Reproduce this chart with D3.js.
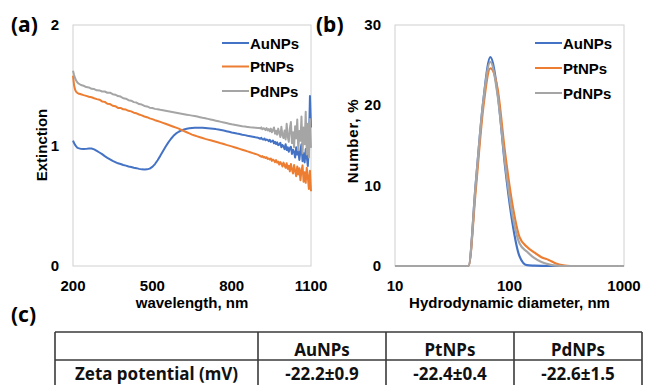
<!DOCTYPE html>
<html><head><meta charset="utf-8">
<script src="https://cdn.jsdelivr.net/npm/d3@7/dist/d3.min.js"></script>
<style>
html,body{margin:0;padding:0;background:#fff;}
svg{display:block;}
</style></head><body>
<svg id="chart" width="655" height="385"></svg>
<script>
// ---------- DATA ----------
const seriesNames = ["AuNPs", "PtNPs", "PdNPs"];
const seriesColors = ["#4472C4", "#ED7D31", "#A5A5A5"];

// (a) extinction spectra
const wavelength = [200, 204, 208, 212, 216]
  .concat(d3.range(220, 901, 10), d3.range(904, 1101, 4));
const extAu = [1.040,1.020,1.005,0.992,0.982,
  0.978,0.972,0.970,0.972,0.976,0.975,0.968,0.955,0.942,0.928,
  0.912,0.898,0.885,0.872,0.862,0.852,0.846,0.838,0.833,0.826,
  0.822,0.816,0.812,0.806,0.802,0.800,0.802,0.808,0.822,0.846,
  0.878,0.914,0.952,0.990,1.024,1.054,1.080,1.100,1.114,1.125,
  1.133,1.139,1.143,1.146,1.147,1.148,1.148,1.147,1.146,1.144,
  1.142,1.139,1.136,1.132,1.128,1.124,1.119,1.114,1.108,1.104,
  1.099,1.095,1.090,1.086,1.081,1.077,1.073,1.068,1.064,
  1.060,1.056,1.064,1.052,1.049,1.058,1.044,1.050,1.047,1.036,
  1.048,1.030,1.034,1.042,1.018,1.030,1.012,1.026,1.003,1.008,
  1.022,0.985,1.004,0.992,0.970,1.010,0.962,0.985,0.948,0.978,
  0.990,0.930,0.965,0.945,0.900,0.985,0.925,0.950,0.880,0.960,
  1.010,0.870,0.935,0.860,0.970,0.905,0.830,0.990,1.410,1.150];
const extPt = [1.580,1.500,1.462,1.445,1.437,
  1.432,1.425,1.418,1.412,1.405,1.400,1.392,1.385,1.380,1.366,
  1.362,1.346,1.344,1.330,1.326,1.312,1.312,1.300,1.298,1.288,
  1.283,1.272,1.267,1.257,1.250,1.241,1.235,1.225,1.219,1.210,
  1.203,1.196,1.188,1.180,1.172,1.164,1.156,1.148,1.140,1.130,
  1.120,1.110,1.100,1.090,1.083,1.076,1.069,1.062,1.055,1.049,
  1.043,1.037,1.031,1.025,1.018,1.012,1.005,0.999,0.993,0.986,
  0.979,0.972,0.965,0.958,0.951,0.944,0.937,0.930,0.922,
  0.917,0.913,0.906,0.912,0.901,0.905,0.896,0.903,0.889,0.893,
  0.884,0.892,0.872,0.884,0.876,0.862,0.879,0.858,0.866,0.842,
  0.862,0.848,0.826,0.858,0.835,0.815,0.852,0.806,0.832,0.785,
  0.846,0.800,0.768,0.838,0.790,0.745,0.826,0.760,0.812,0.712,
  0.790,0.835,0.700,0.778,0.690,0.815,0.740,0.640,0.790,0.620];
const extPd = [1.620,1.585,1.558,1.538,1.525,
  1.515,1.502,1.496,1.485,1.482,1.470,1.468,1.458,1.457,1.448,
  1.448,1.438,1.438,1.426,1.422,1.410,1.406,1.392,1.388,1.376,
  1.372,1.360,1.356,1.344,1.340,1.328,1.324,1.314,1.311,1.304,
  1.301,1.296,1.292,1.288,1.284,1.280,1.276,1.272,1.268,1.264,
  1.260,1.256,1.252,1.248,1.244,1.240,1.235,1.230,1.226,1.221,
  1.216,1.211,1.206,1.201,1.196,1.191,1.186,1.181,1.176,1.172,
  1.168,1.164,1.160,1.157,1.154,1.151,1.149,1.147,1.145,
  1.146,1.142,1.150,1.135,1.143,1.139,1.128,1.145,1.125,1.136,
  1.118,1.140,1.110,1.128,1.150,1.098,1.122,1.090,1.140,1.105,
  1.070,1.155,1.085,1.062,1.125,1.050,1.180,1.075,1.030,1.140,
  1.195,1.020,1.110,0.985,1.160,1.060,1.215,0.960,1.120,1.040,
  1.240,0.935,1.150,1.010,1.280,0.925,1.180,0.900,1.220,0.980];
const extTicks = [0, 1, 2];
const wlTicks = [200, 500, 800, 1100];

// (b) DLS number distributions
const diameter = [10, 37.84, 43.82, 50.75, 58.77, 68.06, 78.82, 91.28, 105.7, 122.4,
                  141.8, 164.2, 190.1, 220.2, 255.0, 295.3, 342.0, 500, 1000];
const numAu = [0, 0, 0, 10.3, 20.3, 26.0, 21.5, 12.5, 5.5, 1.2, 0.1, 0.05, 0.02, 0, 0, 0, 0, 0, 0];
const numPt = [0, 0, 0, 9.5, 19.5, 24.6, 22.0, 14.2, 7.8, 3.6, 2.4, 1.7, 1.1, 0.75, 0.3, 0.08, 0, 0, 0];
const numPd = [0, 0, 0, 10.3, 20.3, 25.4, 21.2, 12.9, 6.5, 2.8, 1.8, 1.0, 0.5, 0.2, 0.05, 0, 0, 0, 0];
const numTicks = [0, 10, 20, 30];
const diaTicks = [10, 100, 1000];

// (c) zeta potential table
const tableHeader = ["", "AuNPs", "PtNPs", "PdNPs"];
const tableRow = ["Zeta potential (mV)", "-22.2±0.9", "-22.4±0.4", "-22.6±1.5"];

// ---------- DRAW ----------
const svg = d3.select("#chart");
const FONT = "'Liberation Sans', Arial, sans-serif";
const PFONT = "'Noto Sans', 'Open Sans', sans-serif";

function panel(opts) {
  const g = svg.append("g");
  const {x, y, xTicks, yTicks, series, xs, label, labelX, xTitle, yTitle, yTitleX, yTitleY, legendX, legendY, curve} = opts;
  const [x0, x1] = x.range();
  const [y0, y1] = y.range();
  g.append("rect").attr("x", x0).attr("y", y1).attr("width", x1 - x0).attr("height", y0 - y1)
    .attr("fill", "none").attr("stroke", "#d0d0d0").attr("stroke-width", 1);
  const line = d3.line().x((d, i) => x(xs[i])).y(d => y(d)).curve(curve);
  series.forEach((s, k) => {
    g.append("path").datum(s).attr("d", line).attr("fill", "none")
      .attr("stroke", seriesColors[k]).attr("stroke-width", opts.sw).attr("stroke-linejoin", "round");
  });
  g.selectAll(".yt").data(yTicks).enter().append("text")
    .attr("x", x0 - 14).attr("y", d => y(d) + 5).attr("text-anchor", "end")
    .attr("font-family", FONT).attr("font-weight", "bold").attr("font-size", 15).attr("fill", "#000")
    .text(d => d);
  g.selectAll(".xt").data(xTicks).enter().append("text")
    .attr("x", d => x(d)).attr("y", 291).attr("text-anchor", "middle")
    .attr("font-family", FONT).attr("font-weight", "bold").attr("font-size", 15).attr("fill", "#000")
    .text(d => d);
  g.append("text").attr("x", (x0 + x1) / 2).attr("y", 308).attr("text-anchor", "middle")
    .attr("font-family", FONT).attr("font-weight", "bold").attr("font-size", 15).text(xTitle);
  g.append("text").attr("transform", `translate(${yTitleX},${yTitleY}) rotate(-90)`)
    .attr("text-anchor", "middle").attr("font-family", FONT).attr("font-weight", "bold")
    .attr("font-size", 15).attr("letter-spacing", opts.yls || 0).text(yTitle);
  g.append("text").attr("x", labelX).attr("y", 32).attr("font-family", PFONT)
    .attr("font-weight", "bold").attr("font-size", 21).text(label);
  seriesNames.forEach((n, k) => {
    const ly = legendY[k];
    g.append("line").attr("x1", legendX).attr("x2", legendX + 27).attr("y1", ly).attr("y2", ly)
      .attr("stroke", seriesColors[k]).attr("stroke-width", 2);
    g.append("text").attr("x", legendX + 28).attr("y", ly + 5.5)
      .attr("font-family", FONT).attr("font-weight", "bold").attr("font-size", 15).text(n);
  });
}

const xA = d3.scaleLinear().domain([200, 1100]).range([73, 311]);
const yA = d3.scaleLinear().domain([0, 2]).range([266, 25]);
panel({x: xA, y: yA, xTicks: wlTicks, yTicks: extTicks, series: [extAu, extPt, extPd], xs: wavelength,
  label: "(a)", labelX: 11, xTitle: "wavelength, nm", yTitle: "Extinction", yTitleX: 47, yTitleY: 145,
  legendX: 222, legendY: [43, 66.5, 91], curve: d3.curveLinear, sw: 2});

const xB = d3.scaleLog().domain([10, 1000]).range([395, 624]);
const yB = d3.scaleLinear().domain([0, 30]).range([266, 25]);
panel({x: xB, y: yB, xTicks: diaTicks, yTicks: numTicks, series: [numAu, numPt, numPd], xs: diameter,
  label: "(b)", labelX: 316, xTitle: "Hydrodynamic diameter, nm", yTitle: "Number, %", yTitleX: 358, yTitleY: 141,
  legendX: 535, legendY: [43, 68, 93], curve: d3.curveMonotoneX, sw: 2.2, yls: 0.8});

svg.append("text").attr("x", 11).attr("y", 322).attr("font-family", PFONT)
  .attr("font-weight", "bold").attr("font-size", 21).text("(c)");

const colEdges = [55, 258, 386, 514, 642];
const rowEdges = [332, 360, 389];
const tg = svg.append("g").attr("stroke", "#3a3a3a").attr("stroke-width", 1.6);
rowEdges.forEach(yv => tg.append("line").attr("x1", colEdges[0]).attr("x2", colEdges[4]).attr("y1", yv).attr("y2", yv));
colEdges.forEach(xv => tg.append("line").attr("x1", xv).attr("x2", xv).attr("y1", rowEdges[0]).attr("y2", rowEdges[2]));
[tableHeader, tableRow].forEach((row, r) => {
  row.forEach((t, c) => {
    svg.append("text").attr("x", (colEdges[c] + colEdges[c + 1]) / 2).attr("y", r === 0 ? 356 : 380)
      .attr("text-anchor", "middle").attr("font-family", PFONT).attr("font-weight", "bold")
      .attr("font-size", 17).attr("fill", "#111").text(t);
  });
});
</script>
</body></html>
